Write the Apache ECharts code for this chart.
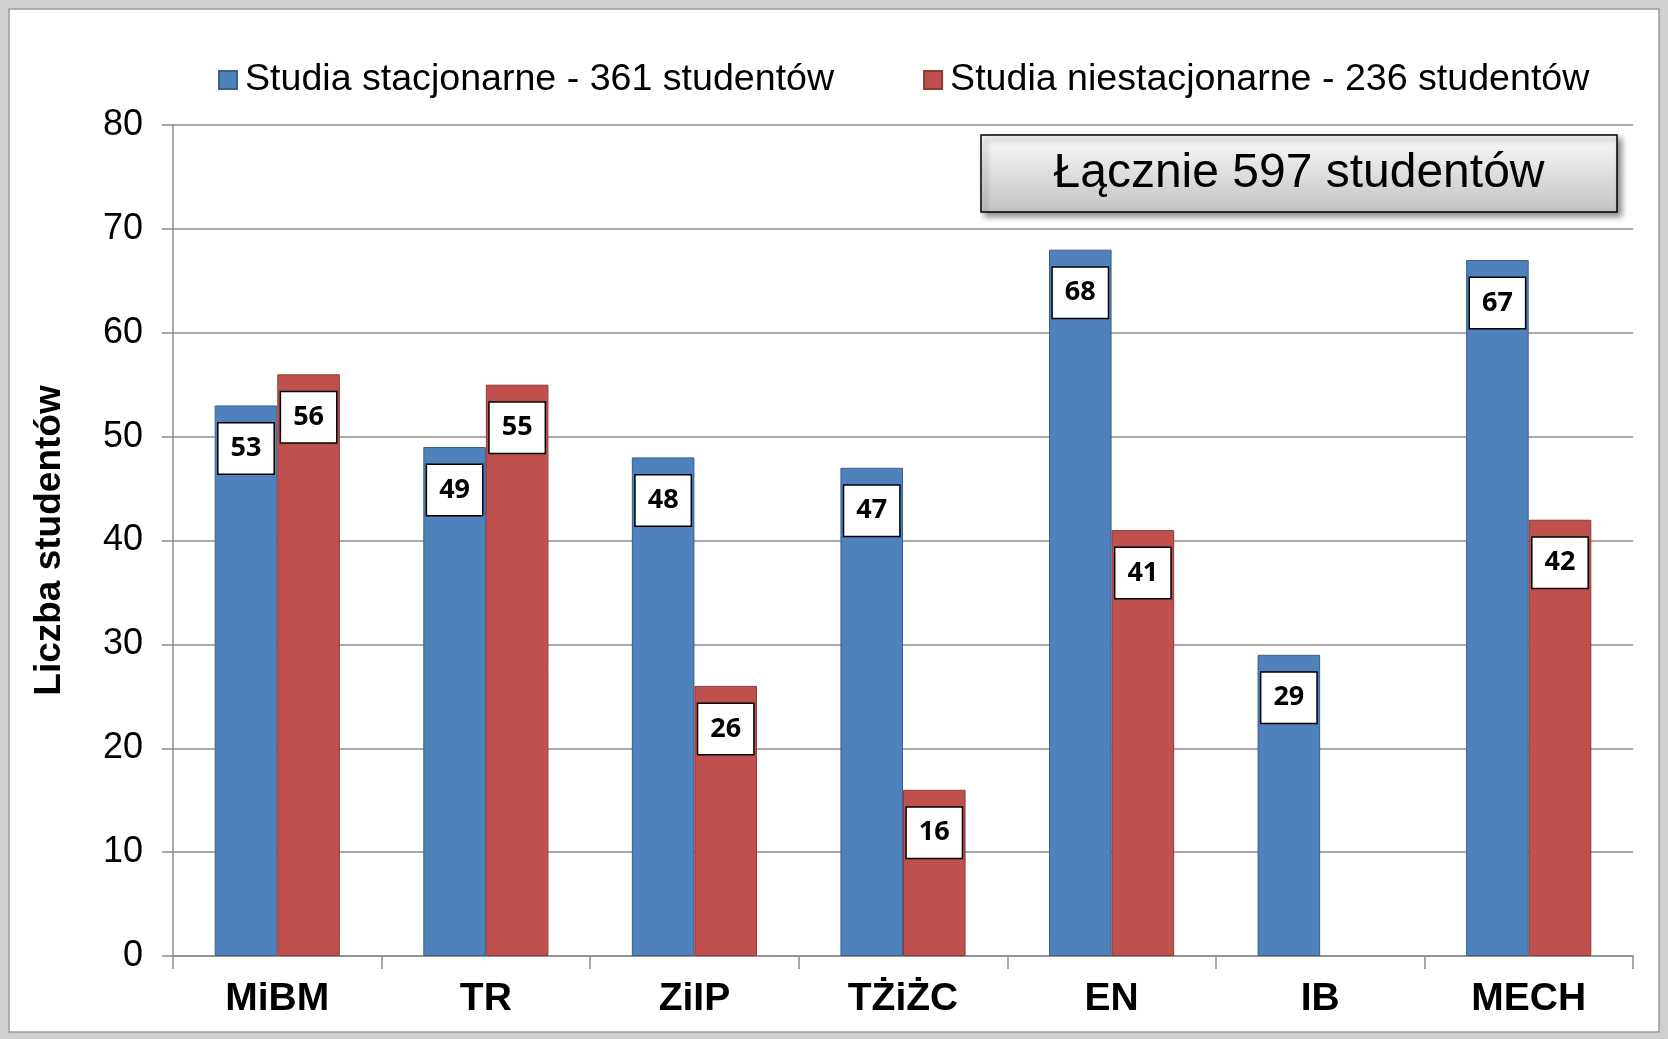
<!DOCTYPE html>
<html>
<head>
<meta charset="utf-8">
<title>Liczba studentów</title>
<script src="https://cdn.jsdelivr.net/npm/echarts@6/dist/echarts.min.js"></script>
<style>
  html, body { margin: 0; padding: 0; background: #cfcfcf; }
  #chart { width: 1668px; height: 1039px; }
</style>
</head>
<body>
<div id="chart"></div>
<script>
// kierunki studiów
const categories = ['MiBM', 'TR', 'ZiIP', 'TŻiŻC', 'EN', 'IB', 'MECH']
const stacjonarne = [53, 49, 48, 47, 68, 29, 67]
const niestacjonarne = [56, 55, 26, 16, 41, null, 42]
const seriesNames = ['Studia stacjonarne - 361 studentów', 'Studia niestacjonarne - 236 studentów']
const yTicks = [0, 10, 20, 30, 40, 50, 60, 70, 80]
const totalText = 'Łącznie 597 studentów'

const chart = echarts.init(document.getElementById('chart'))

const labelStyle = {
  show: true,
  position: 'insideTop',
  distance: 18,
  color: '#000',
  fontFamily: 'Open Sans',
  fontWeight: 'bold',
  fontSize: 27,
  lineHeight: 28,
  backgroundColor: '#fff',
  borderColor: '#000',
  borderWidth: 1.5,
  padding: [11, 12]
}

const option = {
  backgroundColor: '#cfcfcf',
  animation: false,
  textStyle: { fontFamily: 'Liberation Sans' },
  graphic: [
    {
      type: 'rect',
      z: -10,
      shape: { x: 9, y: 9, width: 1650, height: 1023 },
      style: { fill: '#fff', stroke: '#9a9a9a', lineWidth: 1.5 }
    },
    {
      type: 'group',
      z: 100,
      children: [
        {
          type: 'rect',
          shape: { x: 981, y: 135, width: 636, height: 77 },
          style: {
            fill: new echarts.graphic.LinearGradient(0, 0, 0, 1, [
              { offset: 0, color: '#fbfbfb' },
              { offset: 1, color: '#c2c2c2' }
            ]),
            stroke: '#000',
            lineWidth: 1.5,
            shadowBlur: 6,
            shadowOffsetX: 4,
            shadowOffsetY: 4,
            shadowColor: 'rgba(0,0,0,0.45)'
          }
        },
        {
          type: 'text',
          x: 1299,
          y: 174,
          style: {
            text: totalText,
            fill: '#000',
            font: '48px "Liberation Sans"',
            align: 'center',
            verticalAlign: 'middle'
          }
        }
      ]
    }
  ],
  legend: {
    left: 213,
    top: 56,
    itemWidth: 18,
    itemHeight: 18,
    itemGap: 89,
    icon: 'rect',
    textStyle: {
      fontSize: 37.6,
      color: '#000',
      fontFamily: 'Liberation Sans',
      padding: [0, 0, 0, 3]
    },
    data: seriesNames
  },
  grid: {
    left: 173,
    right: 35,
    top: 125,
    bottom: 83
  },
  xAxis: {
    type: 'category',
    data: categories,
    axisLine: { lineStyle: { color: '#8c8c8c', width: 1.5 } },
    axisTick: { show: true, length: 13, interval: 0, lineStyle: { color: '#8c8c8c', width: 1.5 } },
    axisLabel: {
      color: '#000',
      fontSize: 39,
      fontWeight: 'bold',
      fontFamily: 'Liberation Sans',
      margin: 24,
      interval: 0
    }
  },
  yAxis: {
    type: 'value',
    min: yTicks[0],
    max: yTicks[yTicks.length - 1],
    interval: 10,
    name: 'Liczba studentów',
    nameLocation: 'middle',
    nameGap: 105,
    nameTextStyle: {
      color: '#000',
      fontSize: 37,
      fontWeight: 'bold',
      fontFamily: 'Liberation Sans'
    },
    axisLine: { show: true, lineStyle: { color: '#8c8c8c', width: 1.5 } },
    axisTick: { show: true, length: 11, lineStyle: { color: '#8c8c8c', width: 1.5 } },
    axisLabel: {
      color: '#000',
      fontSize: 36,
      fontFamily: 'Liberation Sans',
      margin: 30
    },
    splitLine: { lineStyle: { color: '#8c8c8c', width: 1.5 } }
  },
  series: [
    {
      name: seriesNames[0],
      type: 'bar',
      data: stacjonarne,
      barGap: '0%',
      barCategoryGap: '40%',
      itemStyle: { color: '#4f81bd', borderColor: '#3a5f8b', borderWidth: 1 },
      label: labelStyle
    },
    {
      name: seriesNames[1],
      type: 'bar',
      data: niestacjonarne,
      barGap: '0%',
      barCategoryGap: '40%',
      itemStyle: { color: '#c0504d', borderColor: '#8e3a38', borderWidth: 1 },
      label: labelStyle
    }
  ]
}

chart.setOption(option)
</script>
</body>
</html>
